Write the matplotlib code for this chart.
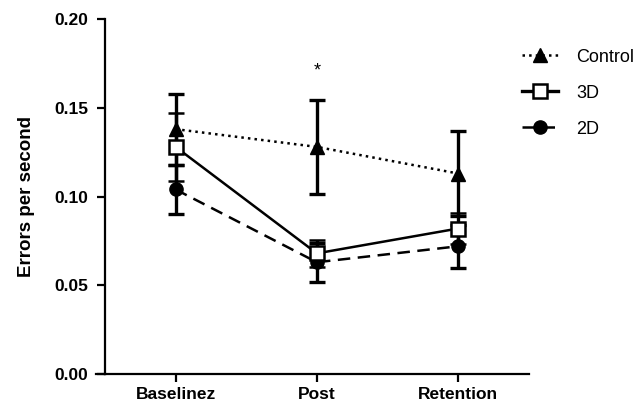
import numpy as np
import matplotlib.pyplot as plt
from matplotlib.lines import Line2D

plt.rcParams['font.family'] = ['Liberation Sans', 'DejaVu Sans']

phases = ["Baselinez", "Post", "Retention"]
control_mean = [0.138, 0.128, 0.113]
control_err = [0.020, 0.0265, 0.024]
d3_mean = [0.128, 0.068, 0.082]
d3_err = [0.019, 0.0075, 0.009]
d2_mean = [0.104, 0.063, 0.072]
d2_err = [0.014, 0.011, 0.012]
yticks = [0.00, 0.05, 0.10, 0.15, 0.20]

x = np.arange(len(phases))

fig = plt.figure(figsize=(6.44, 4.07), dpi=100)
ax = fig.add_axes([0.163, 0.081, 0.658, 0.872])

common = dict(color="black", ecolor="black", elinewidth=2.4, capsize=5.5, capthick=2.4)
ax.errorbar(x, control_mean, yerr=control_err, fmt="^", linestyle=":", lw=1.8,
            markersize=9.5, zorder=3, **common)
ax.errorbar(x, d2_mean, yerr=d2_err, fmt="o", linestyle=(0, (5, 3)), lw=1.8,
            markersize=9.5, zorder=3, **common)
ax.errorbar(x, d3_mean, yerr=d3_err, fmt="s", linestyle="-", lw=1.8,
            markersize=9.5, markerfacecolor="white", markeredgewidth=1.8, zorder=4, **common)

ax.text(1, 0.171, "*", ha="center", va="center", fontsize=13)

ax.set_xlim(-0.5, 2.5)
ax.set_ylim(0, 0.2)
ax.set_xticks(x)
ax.set_xticklabels(phases, fontsize=12.5, fontweight="bold")
ax.set_yticks(yticks)
ax.set_yticklabels([f"{v:.2f}" for v in yticks], fontsize=12.5, fontweight="bold")
ax.set_ylabel("Errors per second", fontsize=13.5, fontweight="bold", labelpad=14)

for side in ["top", "right"]:
    ax.spines[side].set_visible(False)
for side in ["left", "bottom"]:
    ax.spines[side].set_linewidth(1.6)
ax.tick_params(width=1.6, length=6)
ax.tick_params(axis="y", pad=6)
ax.plot([-0.02, 0], [0, 0], color="black", lw=1.6, transform=ax.transAxes, clip_on=False)

handles = [
    Line2D([], [], color="black", linestyle=":", lw=1.8, marker="^", markersize=9.5),
    Line2D([], [], color="black", linestyle="-", lw=2.4, marker="s", markersize=9.5,
           markerfacecolor="white", markeredgewidth=1.8),
    Line2D([], [], color="black", linestyle=(0, (5, 3)), lw=1.8, marker="o", markersize=9.5),
]
fig.legend(handles, ["Control", "3D", "2D"], loc="upper left",
           bbox_to_anchor=(0.785, 0.92), frameon=False, fontsize=13,
           handlelength=2.0, handletextpad=1.0, labelspacing=1.05)

fig.savefig("out.png", dpi=100)
